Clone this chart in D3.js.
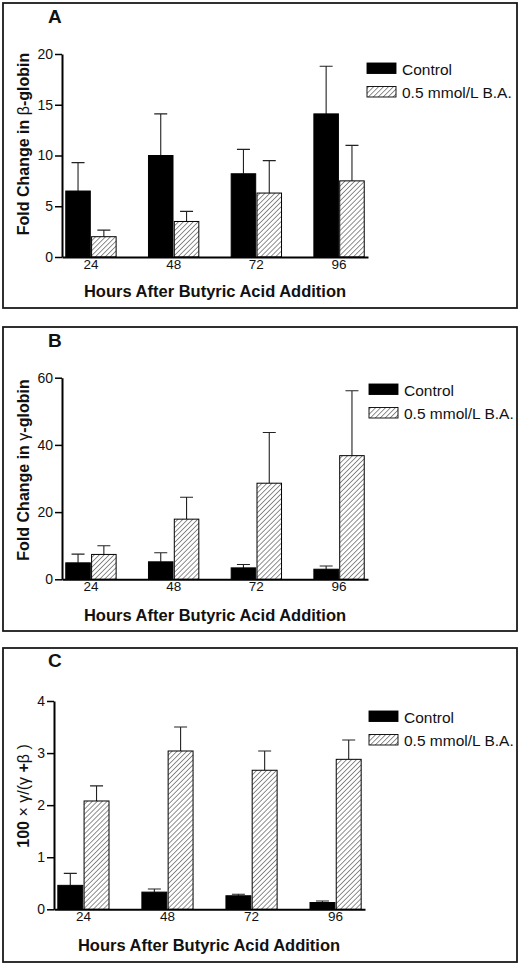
<!DOCTYPE html>
<html>
<head>
<meta charset="utf-8">
<script src="https://cdn.jsdelivr.net/npm/d3@7/dist/d3.min.js"></script>
<style>
  html, body { margin: 0; padding: 0; background: #fff; }
  svg { display: block; }
  text { font-family: "Liberation Sans", Arial, Helvetica, sans-serif; fill: #111; }
</style>
</head>
<body>
<svg id="chart" width="520" height="965"></svg>
<script>
// ---------- data ----------
const hours = ["24", "48", "72", "96"];
const seriesNames = ["Control", "0.5 mmol/L B.A."];

const betaControl    = [6.5, 10.0, 8.2, 14.1];
const betaControlErr = [2.8, 4.1, 2.4, 4.7];
const betaBA         = [2.0, 3.5, 6.3, 7.5];
const betaBAErr      = [0.65, 1.0, 3.2, 3.5];

const gammaControl    = [4.9, 5.2, 3.4, 3.0];
const gammaControlErr = [2.6, 2.7, 1.0, 0.95];
const gammaBA         = [7.4, 17.9, 28.6, 36.8];
const gammaBAErr      = [2.6, 6.5, 15.1, 19.3];

const ratioControl    = [0.46, 0.33, 0.26, 0.13];
const ratioControlErr = [0.23, 0.06, 0.03, 0.03];
const ratioBA         = [2.08, 3.04, 2.67, 2.88];
const ratioBAErr      = [0.29, 0.46, 0.37, 0.37];

const betaTicks  = [0, 5, 10, 15, 20];
const gammaTicks = [0, 20, 40, 60];
const ratioTicks = [0, 1, 2, 3, 4];

const xTitle = "Hours After Butyric Acid Addition";

// ---------- drawing ----------
const svg = d3.select("#chart");
const defs = svg.append("defs");
const pat = defs.append("pattern")
  .attr("id", "hatch")
  .attr("patternUnits", "userSpaceOnUse")
  .attr("width", 3.5).attr("height", 3.5)
  .attr("patternTransform", "rotate(45)");
pat.append("rect").attr("width", 3.5).attr("height", 3.5).attr("fill", "#fff");
pat.append("line").attr("x1", 0).attr("y1", 0).attr("x2", 0).attr("y2", 3.5)
  .attr("stroke", "#333").attr("stroke-width", 1.1);

const panels = [
  {
    letter: "A", frame: [3, 3, 514, 305],
    x0: 62, x1: 368, yBottom: 257, yTop: 54, domain: [0, 20], ticks: betaTicks,
    control: betaControl, controlErr: betaControlErr, ba: betaBA, baErr: betaBAErr,
    letterPos: [48, 23], yLabelPos: [29, 144], xTitlePos: [215, 297],
    legend: [367, 63],
    yLabel: [["Fold Change in ", "bold"], ["\u03B2", "normal"], ["-globin", "bold"]]
  },
  {
    letter: "B", frame: [3, 327, 514, 304],
    x0: 62, x1: 368, yBottom: 579.3, yTop: 377.7, domain: [0, 60], ticks: gammaTicks,
    control: gammaControl, controlErr: gammaControlErr, ba: gammaBA, baErr: gammaBAErr,
    letterPos: [48, 347], yLabelPos: [29, 470], xTitlePos: [215, 621],
    legend: [369, 384],
    yLabel: [["Fold Change in ", "bold"], ["\u03B3", "normal"], ["-globin", "bold"]]
  },
  {
    letter: "C", frame: [3, 648, 514, 314],
    x0: 54, x1: 365, yBottom: 909.3, yTop: 701, domain: [0, 4], ticks: ratioTicks,
    control: ratioControl, controlErr: ratioControlErr, ba: ratioBA, baErr: ratioBAErr,
    letterPos: [48, 667], yLabelPos: [29, 796], xTitlePos: [209, 951],
    legend: [369, 711],
    yLabel: [["100 ", "bold"], ["\u00D7 \u03B3/(\u03B3 ", "normal"], ["+", "bold"], ["\u03B2 )", "normal"]]
  }
];

panels.forEach(p => {
  const g = svg.append("g");

  // frame
  g.append("rect")
    .attr("x", p.frame[0]).attr("y", p.frame[1])
    .attr("width", p.frame[2]).attr("height", p.frame[3])
    .attr("fill", "none").attr("stroke", "#1a1a1a").attr("stroke-width", 1.8);

  // scales
  const x = d3.scaleBand().domain(hours).range([p.x0, p.x1])
    .paddingInner(0.36).paddingOuter(0.03);
  const xs = d3.scaleBand().domain(seriesNames).range([0, x.bandwidth()]).padding(0.05);
  const y = d3.scaleLinear().domain(p.domain).range([p.yBottom, p.yTop]);

  const rows = hours.map((h, i) => ({
    h,
    vals: [
      { s: seriesNames[0], v: p.control[i], e: p.controlErr[i] },
      { s: seriesNames[1], v: p.ba[i], e: p.baErr[i] }
    ]
  }));

  const groups = g.selectAll(".grp").data(rows).enter().append("g")
    .attr("transform", d => `translate(${x(d.h)},0)`);

  // error bars (up only)
  groups.selectAll(".err").data(d => d.vals).enter().append("path")
    .attr("d", d => {
      const cx = xs(d.s) + xs.bandwidth() / 2;
      const yt = y(d.v + d.e), yb = y(d.v);
      return `M${cx},${yb}V${yt}M${cx - 6.5},${yt}H${cx + 6.5}`;
    })
    .attr("stroke", "#222").attr("stroke-width", 1.1).attr("fill", "none");

  // bars
  groups.selectAll(".bar").data(d => d.vals).enter().append("rect")
    .attr("x", d => xs(d.s))
    .attr("width", xs.bandwidth())
    .attr("y", d => y(d.v))
    .attr("height", d => y(0) - y(d.v))
    .attr("fill", d => d.s === seriesNames[0] ? "#000" : "url(#hatch)")
    .attr("stroke", "#000").attr("stroke-width", 1);

  // y axis
  const ya = g.append("g").attr("transform", `translate(${p.x0},0)`)
    .call(d3.axisLeft(y).tickValues(p.ticks).tickFormat(d3.format("d"))
      .tickSize(7).tickSizeOuter(0).tickPadding(2));
  ya.select(".domain").attr("stroke", "#000").attr("stroke-width", 2);
  ya.selectAll(".tick line").attr("stroke", "#000").attr("stroke-width", 1.5);
  ya.selectAll(".tick text").attr("font-size", 14).attr("fill", "#111")
    .attr("font-family", "Liberation Sans, Arial, sans-serif");

  // x axis
  const xa = g.append("g").attr("transform", `translate(0,${p.yBottom})`)
    .call(d3.axisBottom(x).tickSize(0).tickSizeOuter(0).tickPadding(2));
  xa.select(".domain").attr("stroke", "#000").attr("stroke-width", 2);
  xa.selectAll(".tick text").attr("font-size", 13.5).attr("fill", "#111")
    .attr("font-family", "Liberation Sans, Arial, sans-serif");

  // panel letter
  g.append("text").attr("x", p.letterPos[0]).attr("y", p.letterPos[1])
    .attr("font-size", 19).attr("font-weight", "bold").text(p.letter);

  // x title
  g.append("text").attr("x", p.xTitlePos[0]).attr("y", p.xTitlePos[1])
    .attr("text-anchor", "middle").attr("font-size", 16.5).attr("font-weight", "bold")
    .text(xTitle);

  // y title
  const yt = g.append("text")
    .attr("transform", `translate(${p.yLabelPos[0]},${p.yLabelPos[1]}) rotate(-90)`)
    .attr("text-anchor", "middle").attr("font-size", 16);
  p.yLabel.forEach(([t, w]) => yt.append("tspan").attr("font-weight", w).text(t));

  // legend
  const lg = g.append("g").attr("transform", `translate(${p.legend[0]},${p.legend[1]})`);
  seriesNames.forEach((s, i) => {
    lg.append("rect").attr("x", 0).attr("y", i * 23.5)
      .attr("width", 29).attr("height", 10.5)
      .attr("fill", i === 0 ? "#000" : "url(#hatch)")
      .attr("stroke", "#000").attr("stroke-width", 0.9);
    lg.append("text").attr("x", 35).attr("y", i * 23.5 + 11.5)
      .attr("font-size", 15.5).text(s);
  });
});
</script>
</body>
</html>
